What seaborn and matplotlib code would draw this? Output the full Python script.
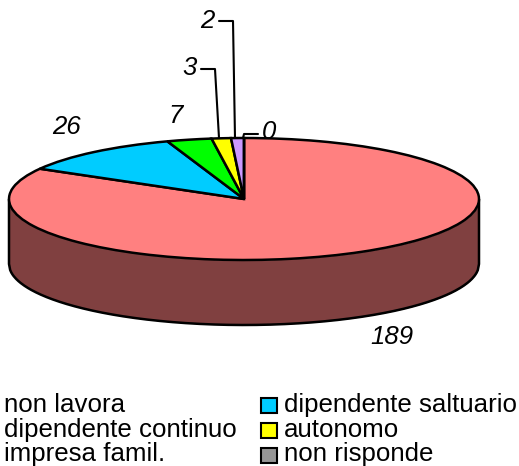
import numpy as np
import matplotlib
matplotlib.use("Agg")
import matplotlib.pyplot as plt
from matplotlib.patches import Rectangle
import seaborn as sns

categories = ["non lavora", "dipendente saltuario", "dipendente continuo",
              "autonomo", "impresa famil.", "non risponde"]
legend_labels = ["non lavora", "dipendente continuo", "impresa famil.",
                 "dipendente saltuario", "autonomo", "non risponde"]
values = [189, 26, 7, 3, 2, 0]
top_colors = ["#FF8080", "#00CCFF", "#00FF00", "#FFFF00", "#CC99FF", "#969696"]
side_color = "#804040"
swatch_colors = ["#00CCFF", "#FFFF00", "#969696"]

sns.set_theme(style="white")
plt.rcParams["font.family"] = ["Liberation Sans", "DejaVu Sans"]
W, H = 519, 466
fig = plt.figure(figsize=(W / 100, H / 100), dpi=100, facecolor="white")
ax = fig.add_axes([0, 0, 1, 1])

CX, CY, RX, RY, DEPTH = 244, 199, 235, 61, 65
palette = sns.color_palette(top_colors)
ax.pie(values, colors=palette, startangle=90, counterclock=False,
       wedgeprops=dict(edgecolor="black", linewidth=1.8, zorder=3))
ax.set_aspect("auto")
ax.set_xlim(-CX / RX, (W - CX) / RX)
ax.set_ylim((CY - H) / RY, CY / RY)
ax.set_xticks([]); ax.set_yticks([])
ax.set_frame_on(False)

# side wall: lower half of the pie's ellipse, extruded downward
t = np.linspace(-1, 1, 400)
lower = -np.sqrt(1 - t ** 2)
d = DEPTH / RY
ax.fill_between(t, lower, lower - d, color=side_color, zorder=1, lw=0)
outline_x = np.concatenate([[-1], t, [1]])
outline_y = np.concatenate([[0], lower - d, [0]])
ax.plot(outline_x, outline_y, color="black", lw=1.8, zorder=2,
        solid_joinstyle="round", solid_capstyle="butt")


def fx(px):
    return (px - CX) / RX


def fy(py):
    return (CY - py) / RY


# value labels
label_fs = 18.5
label_pos = [(392, 337), (67, 127), (176, 116), (190, 68), (207, 21), (269, 132)]
for v, (px, py) in zip(values, label_pos):
    ax.text(fx(px), fy(py), str(v), style="italic", fontsize=label_fs,
            color="black", ha="center", va="center", zorder=5)

# leader lines
leaders = [
    [(201, 69), (215, 69), (219, 138)],
    [(219, 21), (233, 21), (235, 138)],
    [(258, 134), (244, 134), (243, 138)],
]
for pts in leaders:
    ax.plot([fx(p[0]) for p in pts], [fy(p[1]) for p in pts],
            color="black", lw=1.5, zorder=4)

# legend
legend_fs = 18.6
rows = [412, 437, 461.5]
for name, py in zip(legend_labels[:3], rows):
    ax.text(fx(4), fy(py), name, fontsize=legend_fs, color="black",
            ha="left", va="baseline")
for name, col, py in zip(legend_labels[3:], swatch_colors, rows):
    ax.add_patch(Rectangle((fx(261), fy(py + 1)), 16 / RX, 15 / RY,
                           facecolor=col, edgecolor="black", lw=1.5, zorder=4))
    ax.text(fx(284), fy(py), name, fontsize=legend_fs, color="black",
            ha="left", va="baseline")

fig.savefig("out.png", dpi=100, facecolor="white")
